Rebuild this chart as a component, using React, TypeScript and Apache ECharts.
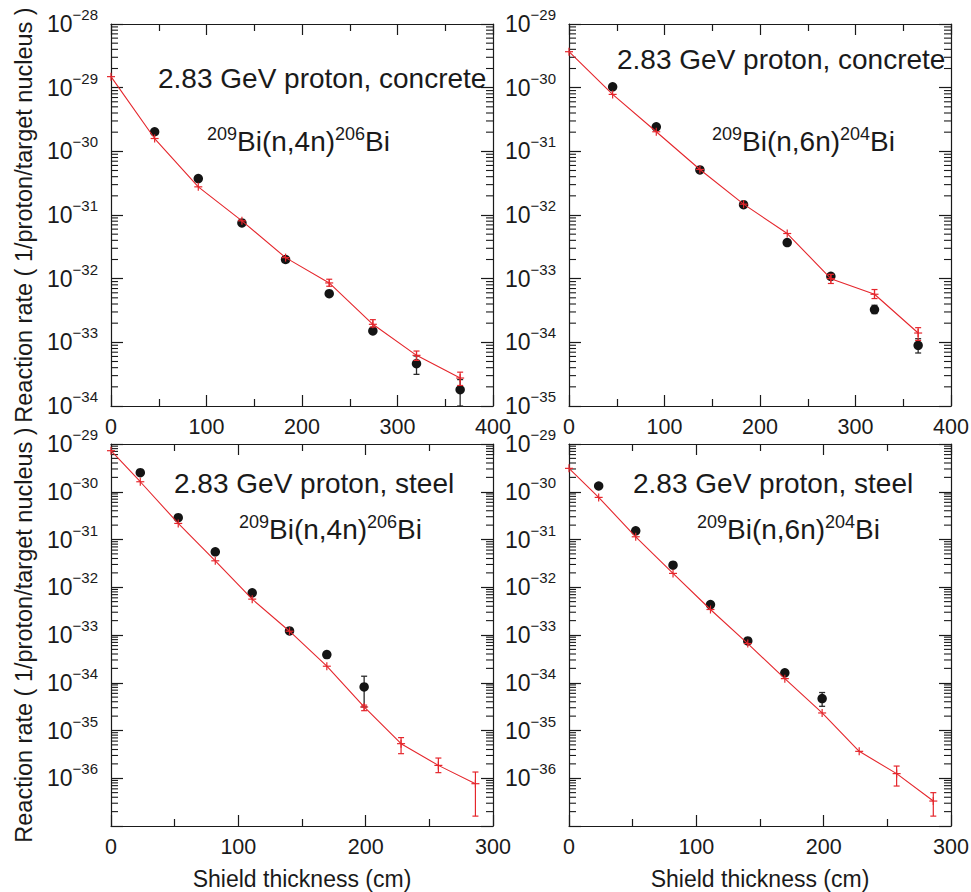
import React, { useEffect, useRef } from "react";
import * as echarts from "echarts";

// ---------- Data (reaction rate, 1/proton/target nucleus; x in cm) ----------
// Panel 1: 2.83 GeV proton, concrete, 209Bi(n,4n)206Bi
const p1CalcX = [0, 45.7, 91.4, 137.1, 182.8, 228.5, 274.2, 319.9, 365.6];
const p1CalcY = [1.49e-29, 1.59e-30, 2.77e-31, 8.1e-32, 2.14e-32, 8.57e-33, 1.92e-33, 6.25e-34, 2.75e-34];
const p1CalcLo = [null, null, null, null, null, 7.6e-33, 1.74e-33, 5.2e-34, 2.1e-34];
const p1CalcHi = [null, null, null, null, null, 9.8e-33, 2.27e-33, 7.3e-34, 3.4e-34];
const p1MeasX = [45.7, 91.4, 137.1, 182.8, 228.5, 274.2, 319.9, 365.6];
const p1MeasY = [2.03e-30, 3.74e-31, 7.52e-32, 2.0e-32, 5.82e-33, 1.51e-33, 4.62e-34, 1.8e-34];
const p1MeasLo = [null, null, null, null, null, null, 3.14e-34, 1.0e-34];
const p1MeasHi = [null, null, null, null, null, null, 6.1e-34, 2.6e-34];

// Panel 2: 2.83 GeV proton, concrete, 209Bi(n,6n)204Bi
const p2CalcX = [0, 45.7, 91.4, 137.1, 182.8, 228.5, 274.2, 319.9, 365.6];
const p2CalcY = [3.67e-30, 7.84e-31, 2.03e-31, 5.19e-32, 1.48e-32, 5.12e-33, 1.0e-33, 5.69e-34, 1.4e-34];
const p2CalcLo = [null, null, null, null, null, null, 8.4e-34, 4.87e-34, 1.07e-34];
const p2CalcHi = [null, null, null, null, null, null, 1.17e-33, 6.75e-34, 1.7e-34];
const p2MeasX = [45.7, 91.4, 137.1, 182.8, 228.5, 274.2, 319.9, 365.6];
const p2MeasY = [1.03e-30, 2.43e-31, 5.1e-32, 1.45e-32, 3.69e-33, 1.09e-33, 3.27e-34, 8.97e-35];
const p2MeasLo = [null, null, null, null, null, 1.0e-33, 2.83e-34, 6.8e-35];
const p2MeasHi = [null, null, null, null, null, 1.18e-33, 3.82e-34, 1.14e-34];

// Panel 3: 2.83 GeV proton, steel, 209Bi(n,4n)206Bi
const p3CalcX = [0, 23.0, 52.8, 81.9, 110.9, 140.2, 169.5, 198.8, 227.8, 257.1, 286.2];
const p3CalcY = [7.24e-30, 1.62e-30, 2.17e-31, 3.58e-32, 5.64e-33, 1.2e-33, 2.22e-34, 3.11e-35, 5.3e-36, 1.86e-36, 7.69e-37];
const p3CalcLo = [null, null, null, null, null, null, null, 2.6e-35, 3.27e-36, 1.31e-36, 1.61e-37];
const p3CalcHi = [null, null, null, null, null, null, null, 3.4e-35, 7.1e-36, 2.65e-36, 1.35e-36];
const p3MeasX = [23.0, 52.8, 81.9, 110.9, 140.2, 169.5, 198.8];
const p3MeasY = [2.51e-30, 2.86e-31, 5.53e-32, 7.64e-33, 1.22e-33, 3.9e-34, 8.18e-35];
const p3MeasLo = [null, null, null, null, null, 3.3e-34, 3.11e-35];
const p3MeasHi = [null, null, null, null, null, 4.5e-34, 1.37e-34];

// Panel 4: 2.83 GeV proton, steel, 209Bi(n,6n)204Bi
const p4CalcX = [0, 23.3, 52.4, 81.7, 111.1, 140.4, 169.5, 198.8, 227.9, 257.3, 286.1];
const p4CalcY = [3.09e-30, 7.62e-31, 1.14e-31, 1.95e-32, 3.42e-33, 6.62e-34, 1.22e-34, 2.33e-35, 3.66e-36, 1.25e-36, 3.33e-37];
const p4CalcLo = [null, null, null, null, null, null, null, null, null, 6.87e-37, 1.61e-37];
const p4CalcHi = [null, null, null, null, null, null, null, null, null, 1.8e-36, 4.99e-37];
const p4MeasX = [23.3, 52.4, 81.7, 111.1, 140.4, 169.5, 198.8];
const p4MeasY = [1.32e-30, 1.52e-31, 2.9e-32, 4.35e-33, 7.53e-34, 1.61e-34, 4.66e-35];
const p4MeasLo = [null, null, null, null, null, null, 3.21e-35];
const p4MeasHi = [null, null, null, null, null, null, 6.24e-35];

const xTickMax = [400, 400, 300, 300];
const yExpMin = [-34, -35, -37, -37];
const yExpMax = [-28, -29, -29, -29];
const hiddenYExp = [null, null, -37, -37];
const titles = ["2.83 GeV proton, concrete", "2.83 GeV proton, concrete", "2.83 GeV proton, steel", "2.83 GeV proton, steel"];
const reactions = [
  ["209", "Bi(n,4n)", "206", "Bi"],
  ["209", "Bi(n,6n)", "204", "Bi"],
  ["209", "Bi(n,4n)", "206", "Bi"],
  ["209", "Bi(n,6n)", "204", "Bi"],
];
const yName = "Reaction rate ( 1/proton/target nucleus )";
const xName = "Shield thickness (cm)";

const panelData = [
  { cx: p1CalcX, cy: p1CalcY, clo: p1CalcLo, chi: p1CalcHi, mx: p1MeasX, my: p1MeasY, mlo: p1MeasLo, mhi: p1MeasHi },
  { cx: p2CalcX, cy: p2CalcY, clo: p2CalcLo, chi: p2CalcHi, mx: p2MeasX, my: p2MeasY, mlo: p2MeasLo, mhi: p2MeasHi },
  { cx: p3CalcX, cy: p3CalcY, clo: p3CalcLo, chi: p3CalcHi, mx: p3MeasX, my: p3MeasY, mlo: p3MeasLo, mhi: p3MeasHi },
  { cx: p4CalcX, cy: p4CalcY, clo: p4CalcLo, chi: p4CalcHi, mx: p4MeasX, my: p4MeasY, mlo: p4MeasLo, mhi: p4MeasHi },
];

// ECharts' log scale rounds extremely small numbers to 0, so the values are
// handed to the axis in units of 1e-33 and the labels add the offset back.
const UNIT_EXP = -33;
const toAxis = (v: number) => v * Math.pow(10, -UNIT_EXP);

// ---------- Layout / style ----------
const FONT = "'Liberation Sans', Arial, Helvetica, sans-serif";
const RED = "#e5262c";
const DOT = "#141414";
const AXIS = "#1a1a1a";
const TEXT = "#1a1a1a";
const gridPos = [
  { left: 111, top: 24 },
  { left: 569, top: 24 },
  { left: 111, top: 444 },
  { left: 569, top: 444 },
];
const GW = 382;
const GH = 382;
const titlePos = [
  { x: 158, y: 78 },
  { x: 617, y: 59 },
  { x: 174, y: 483 },
  { x: 633, y: 483 },
];
const reactionPos = [
  { x: 207, y: 142 },
  { x: 712, y: 142 },
  { x: 239, y: 530 },
  { x: 697, y: 530 },
];

function buildOption() {
  const grid: any[] = [];
  const xAxis: any[] = [];
  const yAxis: any[] = [];
  const series: any[] = [];
  const graphic: any[] = [];

  panelData.forEach((d, i) => {
    grid.push({ left: gridPos[i].left, top: gridPos[i].top, width: GW, height: GH, outerBoundsMode: "none" });
    const baseX = {
      type: "value",
      gridIndex: i,
      min: 0,
      max: xTickMax[i],
      interval: 100,
      axisLine: { show: true, onZero: false, lineStyle: { color: AXIS, width: 1.2 } },
      axisTick: { show: true, inside: true, length: 11, lineStyle: { color: AXIS, width: 1.2 } },
      minorTick: { show: true, splitNumber: 2, length: 7, lineStyle: { color: AXIS, width: 1.2 } },
      splitLine: { show: false },
    };
    xAxis.push({
      ...baseX,
      position: "bottom",
      axisLabel: { show: true, margin: 10, fontSize: 21.5, color: TEXT, fontFamily: FONT, showMinLabel: true, showMaxLabel: true, hideOverlap: false },
    });
    xAxis.push({ ...baseX, position: "top", axisLabel: { show: false } });

    const hid = hiddenYExp[i];
    const baseY = {
      type: "log",
      logBase: 10,
      gridIndex: i,
      min: toAxis(Math.pow(10, yExpMin[i])),
      max: toAxis(Math.pow(10, yExpMax[i])),
      axisLine: { show: true, onZero: false, lineStyle: { color: AXIS, width: 1.2 } },
      axisTick: { show: true, inside: true, length: 12, lineStyle: { color: AXIS, width: 1.2 } },
      minorTick: { show: false },
      splitLine: { show: false },
    };
    yAxis.push({
      ...baseY,
      position: "left",
      axisLabel: {
        show: true,
        margin: 13,
        fontSize: 23,
        color: TEXT,
        fontFamily: FONT,
        showMinLabel: true,
        showMaxLabel: true,
        hideOverlap: false,
        formatter: (v: number) => {
          const e = Math.round(Math.log10(v)) + UNIT_EXP;
          if (hid !== null && e === hid) return "";
          return "{b|10}{s|\u2212" + Math.abs(e) + "}";
        },
        rich: {
          b: { fontSize: 23, lineHeight: 34, fontFamily: FONT, color: TEXT },
          s: { fontSize: 15, verticalAlign: "top", fontFamily: FONT, color: TEXT },
        },
      },
    });
    yAxis.push({ ...baseY, position: "right", axisLabel: { show: false } });

    const xi = 2 * i;
    const yi = 2 * i;

    // log minor ticks (2..9 in each decade) on both y edges
    const minorVals: number[][] = [];
    for (let e = yExpMin[i]; e < yExpMax[i]; e++) {
      for (let k = 2; k <= 9; k++) minorVals.push([0, toAxis(k * Math.pow(10, e))]);
    }
    series.push({
      type: "custom",
      xAxisIndex: xi,
      yAxisIndex: yi,
      silent: true,
      data: minorVals,
      encode: { x: 0, y: 1 },
      renderItem: (params: any, api: any) => {
        const cs = params.coordSys;
        const p = api.coord([0, api.value(1)]);
        const st = { stroke: AXIS, lineWidth: 1.1 };
        return {
          type: "group",
          children: [
            { type: "line", shape: { x1: cs.x, y1: p[1], x2: cs.x + 7, y2: p[1] }, style: st },
            { type: "line", shape: { x1: cs.x + cs.width - 7, y1: p[1], x2: cs.x + cs.width, y2: p[1] }, style: st },
          ],
        };
      },
    });

    // measured error bars
    const measErr = d.mx.map((x, j) => [x, toAxis(d.my[j]), toAxis(d.mlo[j] ?? d.my[j]), toAxis(d.mhi[j] ?? d.my[j])]);
    series.push({
      type: "custom",
      xAxisIndex: xi,
      yAxisIndex: yi,
      silent: true,
      data: measErr,
      encode: { x: 0, y: 1 },
      renderItem: (params: any, api: any) => {
        const x = api.value(0);
        const lo = api.value(2);
        const hi = api.value(3);
        if (lo === hi) return { type: "group", children: [] };
        const a = api.coord([x, hi]);
        const b = api.coord([x, lo]);
        const st = { stroke: "#2a2a2a", lineWidth: 1.3 };
        return {
          type: "group",
          children: [
            { type: "line", shape: { x1: a[0], y1: a[1], x2: b[0], y2: b[1] }, style: st },
            { type: "line", shape: { x1: a[0] - 3, y1: a[1], x2: a[0] + 3, y2: a[1] }, style: st },
            { type: "line", shape: { x1: b[0] - 3, y1: b[1], x2: b[0] + 3, y2: b[1] }, style: st },
          ],
        };
      },
    });

    // measured points
    series.push({
      type: "scatter",
      xAxisIndex: xi,
      yAxisIndex: yi,
      symbol: "circle",
      symbolSize: 9.5,
      itemStyle: { color: DOT, opacity: 1 },
      data: d.mx.map((x, j) => [x, toAxis(d.my[j])]),
      silent: true,
    });

    // calculated line
    series.push({
      type: "line",
      xAxisIndex: xi,
      yAxisIndex: yi,
      symbol: "none",
      lineStyle: { color: RED, width: 1.1 },
      data: d.cx.map((x, j) => [x, toAxis(d.cy[j])]),
      silent: true,
      z: 3,
    });

    // calculated markers and error bars
    const calcPts = d.cx.map((x, j) => [x, toAxis(d.cy[j]), toAxis(d.clo[j] ?? d.cy[j]), toAxis(d.chi[j] ?? d.cy[j])]);
    series.push({
      type: "custom",
      xAxisIndex: xi,
      yAxisIndex: yi,
      silent: true,
      z: 4,
      data: calcPts,
      encode: { x: 0, y: 1 },
      renderItem: (params: any, api: any) => {
        const x = api.value(0);
        const y = api.value(1);
        const lo = api.value(2);
        const hi = api.value(3);
        const c = api.coord([x, y]);
        const st = { stroke: RED, lineWidth: 1.2 };
        const children: any[] = [
          { type: "line", shape: { x1: c[0] - 4, y1: c[1], x2: c[0] + 4, y2: c[1] }, style: st },
          { type: "line", shape: { x1: c[0], y1: c[1] - 4, x2: c[0], y2: c[1] + 4 }, style: st },
        ];
        if (lo !== hi) {
          const a = api.coord([x, hi]);
          const b = api.coord([x, lo]);
          children.push(
            { type: "line", shape: { x1: a[0], y1: a[1], x2: b[0], y2: b[1] }, style: st },
            { type: "line", shape: { x1: a[0] - 3, y1: a[1], x2: a[0] + 3, y2: a[1] }, style: st },
            { type: "line", shape: { x1: b[0] - 3, y1: b[1], x2: b[0] + 3, y2: b[1] }, style: st }
          );
        }
        return { type: "group", children };
      },
    });

    // annotations
    graphic.push({
      type: "text",
      x: titlePos[i].x,
      y: titlePos[i].y,
      silent: true,
      style: { text: titles[i], fontSize: 28, fontFamily: FONT, fill: TEXT, align: "left", verticalAlign: "middle" },
    });
    const r = reactions[i];
    graphic.push({
      type: "text",
      x: reactionPos[i].x,
      y: reactionPos[i].y - 17,
      silent: true,
      style: {
        text: "{s|" + r[0] + "}{m|" + r[1] + "}{s|" + r[2] + "}{m|" + r[3] + "}",
        align: "left",
        verticalAlign: "top",
        fill: TEXT,
        fontFamily: FONT,
        rich: {
          m: { fontSize: 28, lineHeight: 30, padding: [2, 0, 0, 0], fontFamily: FONT, fill: TEXT },
          s: { fontSize: 18, lineHeight: 18, verticalAlign: "top", fontFamily: FONT, fill: TEXT },
        },
      },
    });
  });

  // axis names
  [215, 635].forEach((cy) => {
    graphic.push({
      type: "text",
      x: 24,
      y: cy,
      rotation: Math.PI / 2,
      silent: true,
      style: { text: yName, fontSize: 23.5, fontFamily: FONT, fill: TEXT, align: "center", verticalAlign: "middle" },
    });
  });
  [302, 760].forEach((cx) => {
    graphic.push({
      type: "text",
      x: cx,
      y: 879,
      silent: true,
      style: { text: xName, fontSize: 23, fontFamily: FONT, fill: TEXT, align: "center", verticalAlign: "middle" },
    });
  });

  return {
    animation: false,
    backgroundColor: "#ffffff",
    grid,
    xAxis,
    yAxis,
    series,
    graphic,
  };
}

export default function App() {
  const ref = useRef<HTMLDivElement>(null);
  useEffect(() => {
    if (!ref.current) return;
    const chart = echarts.init(ref.current, undefined, { renderer: "svg" });
    chart.setOption(buildOption() as any);
    return () => chart.dispose();
  }, []);
  return <div ref={ref} style={{ position: "absolute", left: 0, top: 0, width: 971, height: 892, background: "#fff" }} />;
}
